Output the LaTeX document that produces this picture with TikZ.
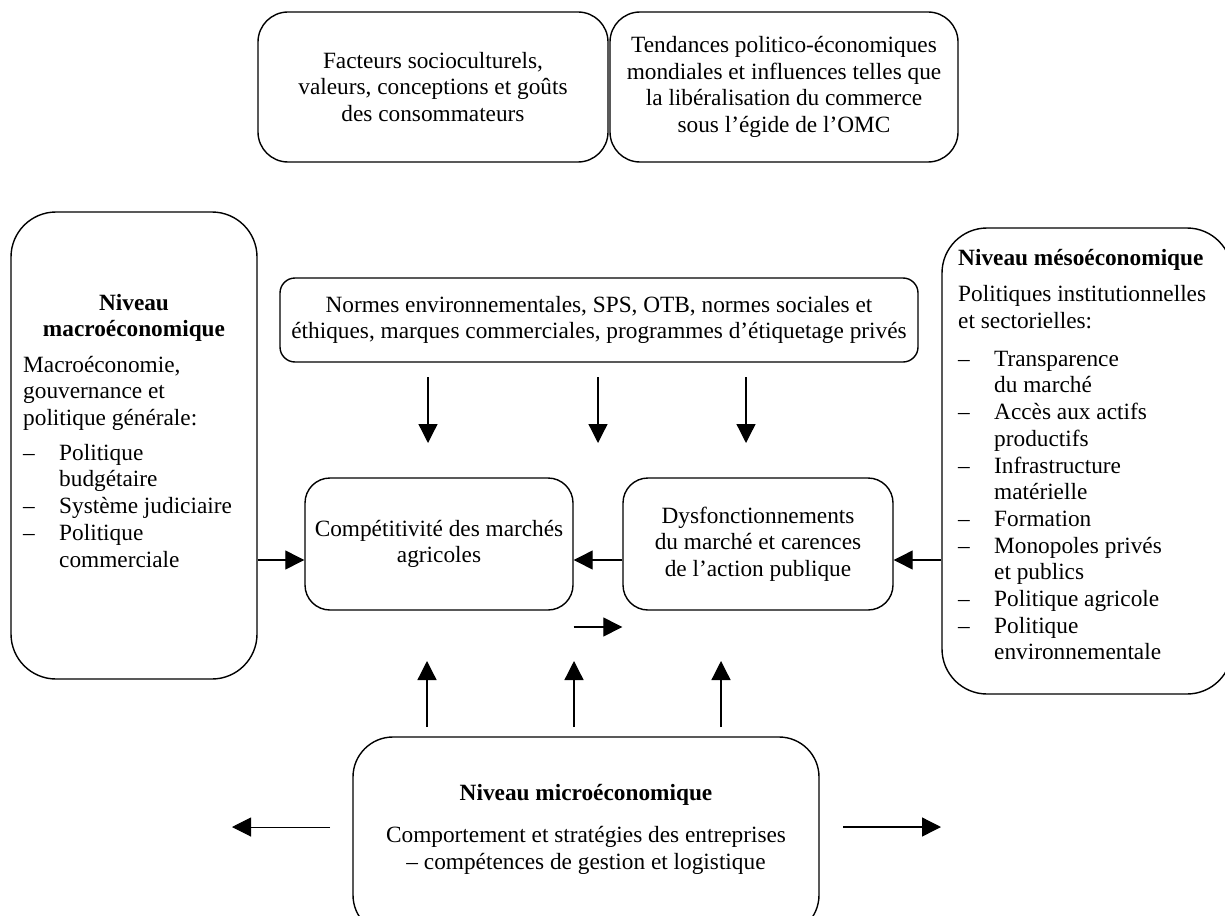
\documentclass[tikz,border=0pt]{standalone}
\usepackage{fontspec}
\setmainfont{Liberation Serif}
\usetikzlibrary{arrows.meta}
\newcommand\lidash{\makebox[36pt][l]{–}}
\newcommand\liind{\hspace*{36pt}}
\begin{document}
\begin{tikzpicture}[x=1pt,y=-1pt,
  font=\fontsize{23.3}{26.7}\selectfont,
  box/.style={draw, line width=1.4pt, rounded corners=#1, inner sep=0pt, align=center},
  box/.default=25pt,
  txt/.style={inner sep=0pt},
  arr/.style={-{Triangle[length=19pt,width=19pt]}, line width=1.3pt},
]
\useasboundingbox (0,0) rectangle (1225,915);
\fill[white] (0,0) rectangle (1225,915);
\clip (0,0) rectangle (1225,915);

% top boxes
\node[box=30pt, minimum width=350pt, minimum height=150pt] (fact) at (433,87)
  {Facteurs socioculturels,\\ valeurs, conceptions et goûts\\ des consommateurs};
\node[box=30pt, minimum width=348pt, minimum height=150pt] (tend) at (784,87)
  {Tendances politico-économiques\\ mondiales et influences telles que\\ la libéralisation du commerce\\ sous l’égide de l’OMC};

% macro box
\node[box=45pt, minimum width=246pt, minimum height=467pt] (macro) at (134,445.5) {};
\node[txt, anchor=north, align=center] (macrohead) at (134,291.3)
  {\strut\textbf{Niveau}\\ \textbf{macroéconomique}};
\node[txt, anchor=north west, align=left] (macrobody) at (23,353.3)
  {\strut Macroéconomie,\\ gouvernance et\\ politique générale:\\[8pt]
   \lidash Politique\\ \liind budgétaire\\ \lidash Système judiciaire\\
   \lidash Politique\\ \liind commerciale};

% meso box
\node[box=45pt, minimum width=290pt, minimum height=466pt] (meso) at (1087,461) {};
\node[txt, anchor=north west, align=left] (mesobody) at (958,246.3)
  {\strut\textbf{Niveau mésoéconomique}\\[10pt]
   Politiques institutionnelles\\ et sectorielles:\\[11pt]
   \lidash Transparence\\ \liind du marché\\
   \lidash Accès aux actifs\\ \liind productifs\\
   \lidash Infrastructure\\ \liind matérielle\\
   \lidash Formation\\
   \lidash Monopoles privés\\ \liind et publics\\
   \lidash Politique agricole\\
   \lidash Politique\\ \liind environnementale};

% normes
\node[box=15pt, minimum width=638pt, minimum height=84pt] (normes) at (599,320)
  {Normes environnementales, SPS, OTB, normes sociales et\\ éthiques, marques commerciales, programmes d’étiquetage privés};

% centre boxes
\node[box=25pt, minimum width=268pt, minimum height=132pt] (comp) at (439,544)
  {Compétitivité des marchés\\ agricoles};
\node[box=25pt, minimum width=270pt, minimum height=132pt] (dysf) at (758,544)
  {Dysfonctionnements\\ du marché et carences\\ de l’action publique};

% micro box
\node[box=40pt, minimum width=466pt, minimum height=198pt] (micro) at (586,836) {};
\node[txt, anchor=north, align=center] (microtext) at (586,781.3)
  {\strut\textbf{Niveau microéconomique}\\[16pt]
   Comportement et stratégies des entreprises\\ – compétences de gestion et logistique};

% free arrow ends
\coordinate (d1a) at (428,377); \coordinate (d1b) at (428,443);
\coordinate (d2a) at (598,377); \coordinate (d2b) at (598,443);
\coordinate (d3a) at (746,377); \coordinate (d3b) at (746,443);
\coordinate (u1a) at (427,727); \coordinate (u1b) at (427,661);
\coordinate (u2a) at (574,727); \coordinate (u2b) at (574,661);
\coordinate (u3a) at (721,727); \coordinate (u3b) at (721,661);
\coordinate (la) at (330,827); \coordinate (lb) at (232,827);
\coordinate (ra) at (843,827); \coordinate (rb) at (941,827);

% connectors
\draw[arr] (macro.east |- 0,560) -- (comp.west |- 0,560);
\draw[arr] (dysf.west |- 0,560) -- (comp.east |- 0,560);
\draw[arr] (meso.west |- 0,560) -- (dysf.east |- 0,560);
\draw[arr] (comp.east |- 0,627) -- (dysf.west |- 0,627);

\draw[arr] (d1a) -- (d1b);
\draw[arr] (d2a) -- (d2b);
\draw[arr] (d3a) -- (d3b);
\draw[arr] (u1a) -- (u1b);
\draw[arr] (u2a) -- (u2b);
\draw[arr] (u3a) -- (u3b);
\draw[arr, line width=1pt] (la) -- (lb);
\draw[arr] (ra) -- (rb);
\end{tikzpicture}
\end{document}
